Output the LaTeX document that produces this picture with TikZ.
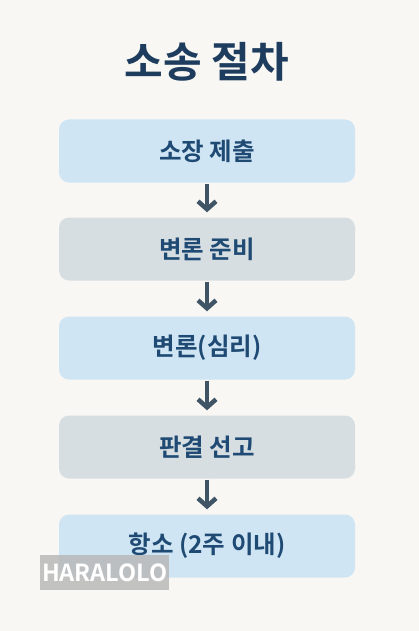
\documentclass[tikz,border=0pt]{standalone}
\usepackage{fontspec}
\setmainfont{Noto Sans CJK KR}[BoldFont={Noto Sans CJK KR Bold}]
\usetikzlibrary{arrows.meta}
\definecolor{bg}{HTML}{F8F7F3}
\definecolor{boxblue}{HTML}{CFE5F4}
\definecolor{boxgrey}{HTML}{D7DEE2}
\definecolor{txtblue}{HTML}{1F4A73}
\definecolor{titleblue}{HTML}{1D3C5E}
\definecolor{arr}{HTML}{3F5566}
\begin{document}
\begin{tikzpicture}[x=1pt,y=-1pt,
  stepbox/.style={rounded corners=10pt, minimum width=296pt, minimum height=63pt, inner sep=0pt, text=txtblue, font=\fontsize{24.5}{28}\selectfont\bfseries},
  flowarrow/.style={draw=arr, line width=4.5pt, -{Straight Barb[length=8pt,width=18pt,line width=4.5pt]}, shorten >=5pt, shorten <=1pt}]
\fill[bg] (0,0) rectangle (419,631);
\useasboundingbox (0,0) rectangle (419,631);
\node[text=titleblue, font=\fontsize{42}{48}\selectfont\bfseries] (title) at (207,62) {소송 절차};
\node[stepbox, fill=boxblue] (s1) at (207,151) {소장 제출};
\node[stepbox, fill=boxgrey] (s2) at (207,249) {변론 준비};
\node[stepbox, fill=boxblue] (s3) at (207,348) {변론(심리)};
\node[stepbox, fill=boxgrey] (s4) at (207,447) {판결 선고};
\node[stepbox, fill=boxblue] (s5) at (207,546) {항소 (2주 이내)};
\draw[flowarrow] (s1) -- (s2);
\draw[flowarrow] (s2) -- (s3);
\draw[flowarrow] (s3) -- (s4);
\draw[flowarrow] (s4) -- (s5);
\node[fill=gray!55, fill opacity=0.85, text opacity=1, text=white, font=\fontsize{23.5}{26}\selectfont\bfseries, minimum width=129pt, minimum height=35pt, inner sep=0pt, anchor=north west] (wm) at (40,555) {HARALOLO};
\end{tikzpicture}
\end{document}
